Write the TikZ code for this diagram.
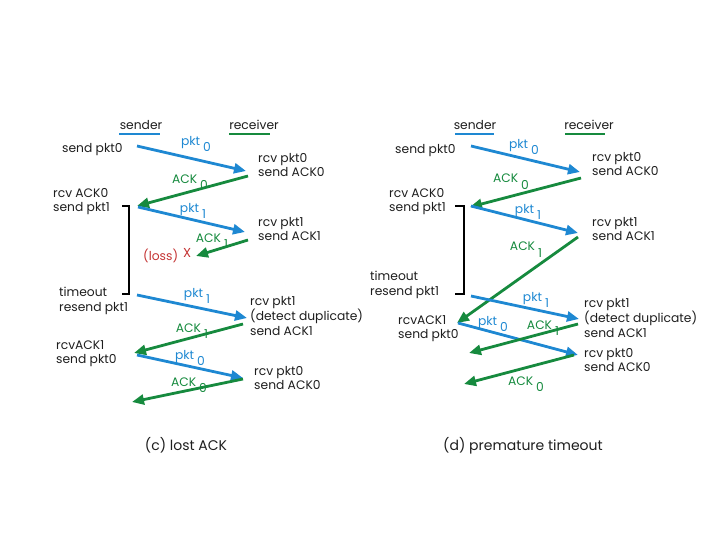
\documentclass[tikz,border=0pt]{standalone}
\usepackage{fontspec}
\setmainfont{Poppins}
\usetikzlibrary{arrows.meta}
\definecolor{pblue}{RGB}{30,136,210}
\definecolor{pgreen}{RGB}{22,138,62}
\definecolor{pred}{RGB}{196,52,52}
\definecolor{ptext}{RGB}{30,30,30}
\tikzset{
  txt/.style={font=\fontsize{12.3}{14.5}\selectfont, text=ptext, inner sep=0pt, align=left, anchor=north west},
  lab/.style={font=\fontsize{12.3}{13}\selectfont, inner sep=0pt, anchor=base},
  captxt/.style={font=\fontsize{14}{15}\selectfont, text=ptext, inner sep=0pt, anchor=base},
  pktarr/.style={draw=pblue, line width=2.8pt, -{Triangle[length=12pt,width=10pt]}},
  ackarr/.style={draw=pgreen, line width=2.8pt, -{Triangle[length=12pt,width=10pt]}},
  brk/.style={draw=black, line width=2.2pt},
}
\newcommand{\sub}[2]{#1\hspace{3pt}\raisebox{-6pt}{#2}}
\begin{document}
\begin{tikzpicture}[x=1pt,y=-1pt]
\useasboundingbox (0,0) rectangle (720,540);
% ================= LEFT (c) =================
\node[lab, text=ptext] (cs) at (141,130) {sender};
\node[lab, text=ptext] (cr) at (254,130) {receiver};
\draw[pblue, line width=2.2pt] (119,134) -- (160,134);
\draw[pgreen, line width=2.2pt] (229,134) -- (270,134);
\node[txt] (c1) at (62,143) {send pkt0};
\node[txt] (c2) at (258,153) {rcv pkt0\\send ACK0};
\node[txt] (c3) at (53,188) {rcv ACK0\\send pkt1};
\node[txt] (c4) at (258,217) {rcv pkt1\\send ACK1};
\node[txt, text=pred] (closs) at (143,249) {(loss)};
\node[txt, text=pred, font=\fontsize{13}{13}\selectfont] (cx) at (183,248) {X};
\node[txt] (c5) at (59,287) {timeout\\resend pkt1};
\node[txt] (c6) at (250,296) {rcv pkt1\\(detect duplicate)\\send ACK1};
\node[txt] (c7) at (56,340) {rcvACK1\\send pkt0};
\node[txt] (c8) at (254,366) {rcv pkt0\\send ACK0};
\node[captxt] (ccap) at (186,450) {(c) lost ACK};
% arrow end points
\coordinate (ca1) at (137,146); \coordinate (ca2) at (246,171);
\coordinate (ca3) at (248,176); \coordinate (ca4) at (137,206);
\coordinate (ca5) at (138,207); \coordinate (ca6) at (245,232);
\coordinate (ca7) at (248,240); \coordinate (ca8) at (196,256);
\coordinate (ca9) at (137,295); \coordinate (ca10) at (247,318);
\coordinate (ca11) at (243,324); \coordinate (ca12) at (134,353);
\coordinate (ca13) at (137,355); \coordinate (ca14) at (243,378);
\coordinate (ca15) at (243,379); \coordinate (ca16) at (132,402);
\draw[pktarr] (ca1) -- (ca2);
\draw[ackarr] (ca3) -- (ca4);
\draw[pktarr] (ca5) -- (ca6);
\draw[ackarr] (ca7) -- (ca8);
\draw[pktarr] (ca9) -- (ca10);
\draw[ackarr] (ca11) -- (ca12);
\draw[pktarr] (ca13) -- (ca14);
\draw[ackarr] (ca15) -- (ca16);
\node[lab, text=pblue] (cl1) at (196,146) {\sub{pkt}{0}};
\node[lab, text=pgreen] (cl2) at (190,184) {\sub{ACK}{0}};
\node[lab, text=pblue] (cl3) at (193,212) {\sub{pkt}{1}};
\node[lab, text=pgreen] (cl4) at (212,242) {\sub{ACK}{1}};
\node[lab, text=pblue] (cl5) at (197,297) {\sub{pkt}{1}};
\node[lab, text=pgreen] (cl6) at (192,332) {\sub{ACK}{1}};
\node[lab, text=pblue] (cl7) at (190,359) {\sub{pkt}{0}};
\node[lab, text=pgreen] (cl8) at (189,386) {\sub{ACK}{0}};
\coordinate (cb1) at (122,206); \coordinate (cb2) at (129,206);
\coordinate (cb3) at (129,294); \coordinate (cb4) at (122,294);
\draw[brk] (cb1) -- (cb2) -- (cb3) -- (cb4);
% ================= RIGHT (d) =================
\node[lab, text=ptext] (ds) at (475,130) {sender};
\node[lab, text=ptext] (dr) at (589,130) {receiver};
\draw[pblue, line width=2.2pt] (455,134) -- (494,134);
\draw[pgreen, line width=2.2pt] (565,134) -- (605,134);
\node[txt] (d1) at (395,144) {send pkt0};
\node[txt] (d2) at (592,152) {rcv pkt0\\send ACK0};
\node[txt] (d3) at (389,188) {rcv ACK0\\send pkt1};
\node[txt] (d4) at (592,217) {rcv pkt1\\send ACK1};
\node[txt] (d5) at (370,271) {timeout\\resend pkt1};
\node[txt] (d6) at (584,298) {rcv pkt1\\(detect duplicate)\\send ACK1};
\node[txt] (d7) at (398,315) {rcvACK1\\send pkt0};
\node[txt] (d8) at (584,348) {rcv pkt0\\send ACK0};
\node[captxt] (dcap) at (523,450) {(d) premature timeout};
\coordinate (da1) at (471,146); \coordinate (da2) at (580,172);
\coordinate (da3) at (581,178); \coordinate (da4) at (470,207);
\coordinate (da5) at (471,206); \coordinate (da6) at (578,233);
\coordinate (da7) at (578,237); \coordinate (da8) at (457,323);
\coordinate (da9) at (471,296); \coordinate (da10) at (579,319);
\coordinate (da11) at (458,323); \coordinate (da12) at (578,355);
\coordinate (da13) at (578,324); \coordinate (da14) at (469,353);
\coordinate (da15) at (574,355); \coordinate (da16) at (464,384);
\draw[pktarr] (da1) -- (da2);
\draw[ackarr] (da3) -- (da4);
\draw[pktarr] (da5) -- (da6);
\draw[ackarr] (da7) -- (da8);
\draw[pktarr] (da9) -- (da10);
\draw[pktarr] (da11) -- (da12);
\draw[ackarr] (da13) -- (da14);
\draw[ackarr] (da15) -- (da16);
\node[lab, text=pblue] (dl1) at (524,149) {\sub{pkt}{0}};
\node[lab, text=pgreen] (dl2) at (511,183) {\sub{ACK}{0}};
\node[lab, text=pblue] (dl3) at (528,214) {\sub{pkt}{1}};
\node[lab, text=pgreen] (dl4) at (526,251) {\sub{ACK}{1}};
\node[lab, text=pblue] (dl5) at (536,301) {\sub{pkt}{1}};
\node[lab, text=pblue] (dl6) at (493,325) {\sub{pkt}{0}};
\node[lab, text=pgreen] (dl7) at (543,329) {\sub{ACK}{1}};
\node[lab, text=pgreen] (dl8) at (526,385) {\sub{ACK}{0}};
\coordinate (db1) at (455,206); \coordinate (db2) at (464,206);
\coordinate (db3) at (464,294); \coordinate (db4) at (455,294);
\draw[brk] (db1) -- (db2) -- (db3) -- (db4);
\end{tikzpicture}
\end{document}
